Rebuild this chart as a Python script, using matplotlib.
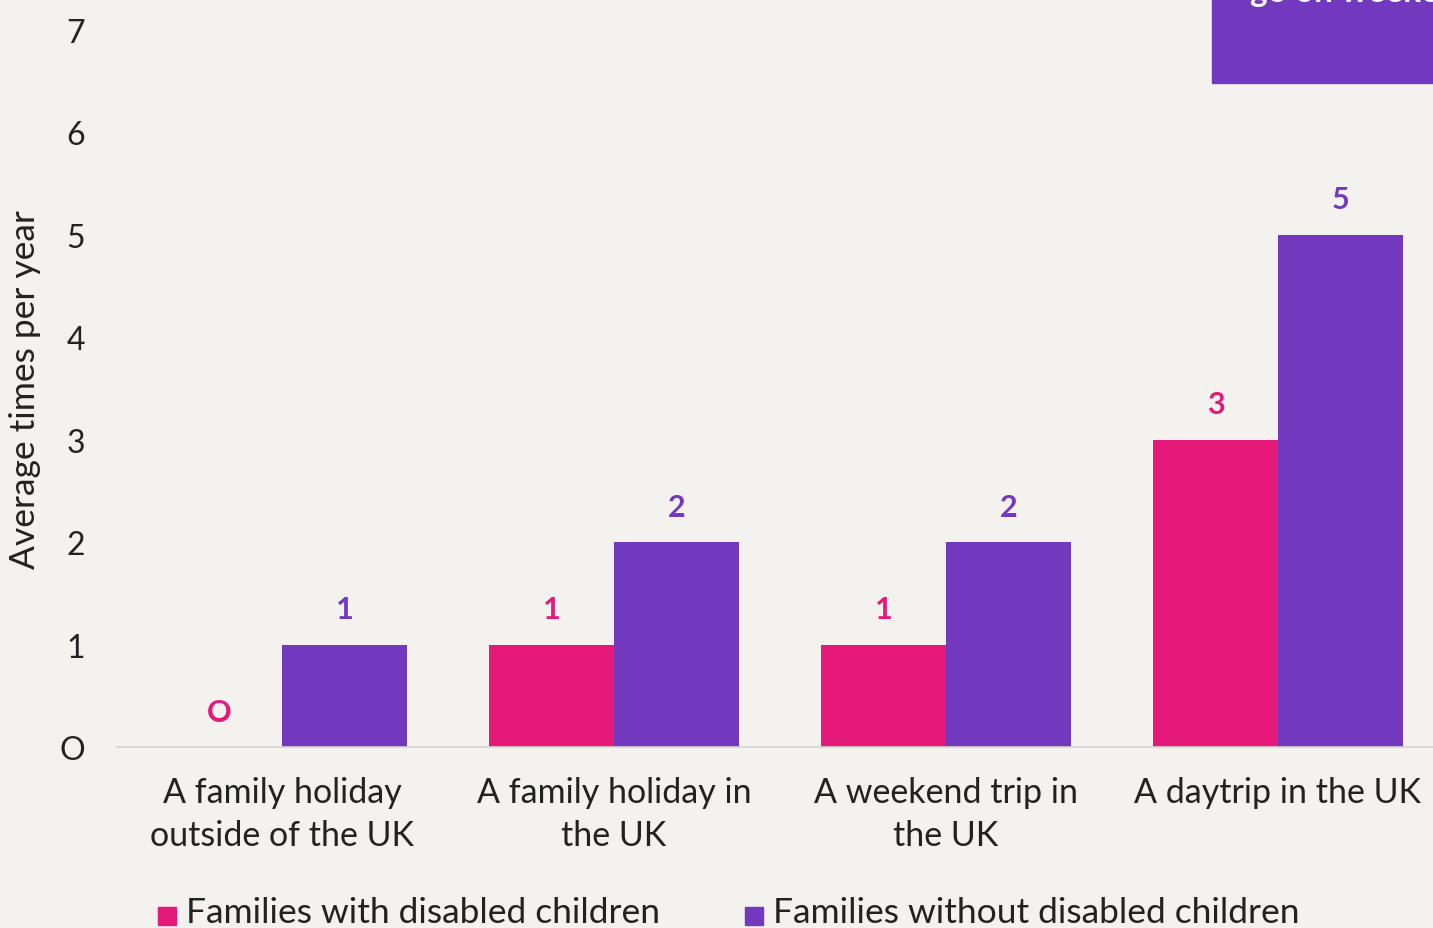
import matplotlib
matplotlib.use('Agg')
import matplotlib.pyplot as plt
import matplotlib.patches as mpatches
import numpy as np

# data
categories = ['A family holiday\noutside of the UK', 'A family holiday in\nthe UK',
              'A weekend trip in\nthe UK', 'A daytrip in the UK']
with_disabled = [0, 1, 1, 3]
without_disabled = [1, 2, 2, 5]
series_names = ['Families with disabled children', 'Families without disabled children']
yticks = [0, 1, 2, 3, 4, 5, 6, 7]
ytick_labels = ['O', '1', '2', '3', '4', '5', '6', '7']

PINK = '#E5197A'
PURPLE = '#7238BE'
BG = '#F4F2EF'
FONT = ['Lato', 'DejaVu Sans']

plt.rcParams['font.family'] = FONT

fig = plt.figure(figsize=(14.33, 9.29), dpi=100)
fig.patch.set_facecolor(BG)
ax = fig.add_axes([117/1433, 181/929, 1316/1433, 748/929])
ax.set_facecolor(BG)

x = np.arange(len(categories))
w = 0.3765
b1 = ax.bar(x - w/2, with_disabled, w, color=PINK)
b2 = ax.bar(x + w/2, without_disabled, w, color=PURPLE)

for rect, v in zip(b1, with_disabled):
    ax.annotate(str(v) if v else 'O', (rect.get_x() + rect.get_width()/2, v),
                xytext=(0, 25.5), textcoords='offset points', ha='center', va='center',
                color=PINK, fontsize=22, fontweight='bold')
for rect, v in zip(b2, without_disabled):
    ax.annotate(str(v), (rect.get_x() + rect.get_width()/2, v),
                xytext=(0, 25.5), textcoords='offset points', ha='center', va='center',
                color=PURPLE, fontsize=22, fontweight='bold')

ax.set_xlim(-0.497, 3.467)
ax.set_ylim(0, 7.3)
ax.set_yticks(yticks)
ax.set_yticklabels(ytick_labels, fontsize=23, color='#222222')
ax.set_xticks(x)
ax.set_xticklabels(categories, fontsize=24.5, color='#222222', linespacing=1.42)
ax.tick_params(axis='y', length=0, pad=23)
ax.tick_params(axis='x', length=0, pad=21)
for s in ['top', 'right', 'left']:
    ax.spines[s].set_visible(False)
ax.spines['bottom'].set_color('#D6D4D1')
ax.spines['bottom'].set_linewidth(1.2)

fig.text(25/1433, 1 - 390/929, 'Average times per year', rotation=90,
         ha='center', va='center', fontsize=25.5, color='#222222')

# legend at bottom (partly cut off like the reference)
fig.patches.append(mpatches.Rectangle((158/1433, 1 - 926/929), 18/1433, 18/929,
                                      transform=fig.transFigure, color=PINK))
fig.text(186/1433, 1 - 913/929, series_names[0], ha='left', va='center',
         fontsize=25.5, color='#222222')
fig.patches.append(mpatches.Rectangle((745/1433, 1 - 926/929), 18/1433, 18/929,
                                      transform=fig.transFigure, color=PURPLE))
fig.text(773/1433, 1 - 913/929, series_names[1], ha='left', va='center',
         fontsize=25.5, color='#222222')

# purple callout box in the top right corner (text runs off the edge as in the source)
fig.patches.append(mpatches.Rectangle((1212/1433, 1 - 84/929), 221/1433, 84/929,
                                      transform=fig.transFigure, color=PURPLE))
fig.text(1250/1433, 1 - 2/929, 'go on weekends', ha='left', va='baseline',
         fontsize=24, fontweight='bold', color='white')

fig.savefig('out.png', dpi=100, facecolor=BG)
